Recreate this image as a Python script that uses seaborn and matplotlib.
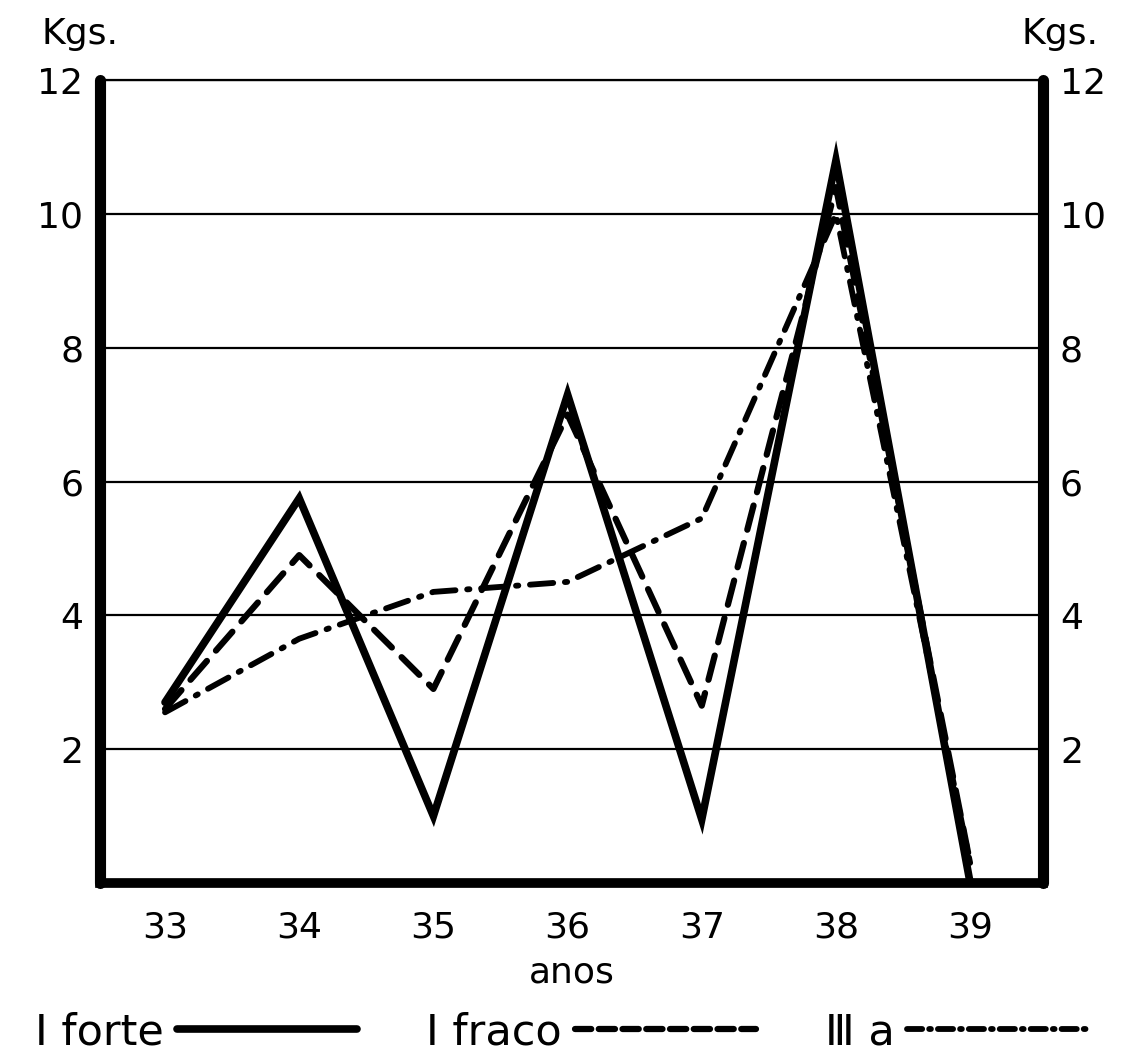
import matplotlib
matplotlib.use("Agg")
import matplotlib.pyplot as plt
import seaborn as sns
from matplotlib.lines import Line2D

# data (kg per year)
anos = [33, 34, 35, 36, 37, 38, 39]
i_forte = [2.7, 5.75, 1.0, 7.3, 0.95, 10.8, 0.0]
i_fraco = [2.6, 4.9, 2.9, 7.0, 2.65, 10.4, 0.3]
iii_a = [2.55, 3.65, 4.35, 4.5, 5.45, 10.0, 0.3]
yticks = [2, 4, 6, 8, 10, 12]
series_names = ["Ⅰ forte", "Ⅰ fraco", "Ⅲ a"]

sns.set_style("white")
plt.rcParams["font.family"] = ["DejaVu Sans"]
plt.rcParams.update({"text.color": "black", "xtick.color": "black",
                     "ytick.color": "black", "axes.labelcolor": "black"})

fig = plt.figure(figsize=(11.23, 10.62), dpi=100)
ax = fig.add_axes([0.089, 0.1686, 0.84, 0.756])

dash_fraco = (4, 2.2)
dash_iii = (4, 2, 0.4, 2)

sns.lineplot(x=anos, y=i_forte, ax=ax, color="black", lw=5.5,
             solid_joinstyle="miter")
sns.lineplot(x=anos, y=i_fraco, ax=ax, color="black", lw=4.5,
             linestyle=(0, dash_fraco), dash_capstyle="round")
sns.lineplot(x=anos, y=iii_a, ax=ax, color="black", lw=4.2,
             linestyle=(0, dash_iii), dash_capstyle="round")

ax.set_xlim(32.515, 39.545)
ax.set_ylim(0, 12)
ax.set_xticks(anos)
ax.set_xticklabels([str(a) for a in anos], fontsize=26)
ax.set_yticks(yticks)
ax.set_yticklabels([str(t) for t in yticks], fontsize=26)
ax.tick_params(axis="x", length=0, pad=20)
ax.tick_params(axis="y", length=0, pad=12, labelright=True)
ax.yaxis.grid(True, color="black", lw=1.6)
ax.set_axisbelow(True)

for side in ["left", "right"]:
    ax.spines[side].set_linewidth(8)
    ax.spines[side].set_color("black")
    ax.spines[side].set_capstyle("round")
ax.spines["bottom"].set_linewidth(7)
ax.spines["bottom"].set_color("black")
ax.spines["top"].set_linewidth(1.6)
ax.spines["top"].set_color("black")

ax.set_xlabel("anos", fontsize=26, labelpad=8)

fig.text(0.071, 0.968, "Kgs.", fontsize=26, ha="center", va="center")
fig.text(0.944, 0.968, "Kgs.", fontsize=26, ha="center", va="center")

handles = [
    Line2D([], [], color="black", lw=5.5),
    Line2D([], [], color="black", lw=4.5, linestyle=(0, (2.6, 1.2)), dash_capstyle="round"),
    Line2D([], [], color="black", lw=4.2, linestyle=(0, (2.6, 1.2, 0.3, 1.2)), dash_capstyle="round"),
]
fig.legend(handles, series_names, loc="center",
           bbox_to_anchor=(0.5, 0.028), ncol=3, frameon=False,
           markerfirst=False, handlelength=4.2, columnspacing=1.6,
           handletextpad=0.3, fontsize=31)

fig.savefig("out.png", dpi=100)
